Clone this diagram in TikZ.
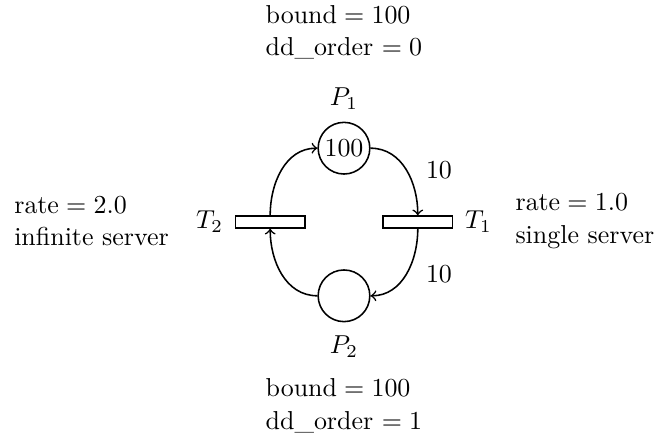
\documentclass[tikz,border=0pt]{standalone}
\usepackage{tikz}
\usetikzlibrary{arrows,positioning}

\begin{document}
\begin{tikzpicture}[
  place/.style={circle, draw, semithick, minimum size=7mm, inner sep=0pt},
  transition/.style={rectangle, draw, semithick, minimum width=9.4mm, minimum height=1.6mm, inner sep=0pt},
  arc/.style={->, semithick},
  info/.style={align=left}]

  \useasboundingbox (-4.661,-2.900) rectangle (4.282,3.008);

  % Places and transitions
  \node[place, label={[label distance=1pt]above:$P_1$}] (P1) at (0,1)  {100};
  \node[place, label={[label distance=1.5pt]below:$P_2$}] (P2) at (0,-1) {};
  \node[transition, label={[label distance=1pt]right:$T_1$}] (T1) at (1,0)  {};
  \node[transition, label={[label distance=1pt]left:$T_2$}]  (T2) at (-1,0) {};

  % Annotations
  \node[info] (P1info) at (0,2.57)  {$\mathrm{bound} = 100$\\[0.5pt] dd\_order $= 0$};
  \node[info] (P2info) at (0,-2.49) {$\mathrm{bound} = 100$\\[0.5pt] dd\_order $= 1$};
  \node[info, anchor=west] (T1info) at (2.20,0.01)  {$\mathrm{rate} = 1.0$\\[0.5pt] single server};
  \node[info, anchor=east] (T2info) at (-2.25,0.01) {$\mathrm{rate} = 2.0$\\[0.5pt] infinite server};

  % Arcs
  \draw[arc] (P1) to[out=0,in=90]    node[right=4pt] {10} (T1);
  \draw[arc] (T1) to[out=-90,in=0]   node[right=4pt] {10} (P2);
  \draw[arc] (P2) to[out=180,in=-90] (T2);
  \draw[arc] (T2) to[out=90,in=180]  (P1);
\end{tikzpicture}
\end{document}
